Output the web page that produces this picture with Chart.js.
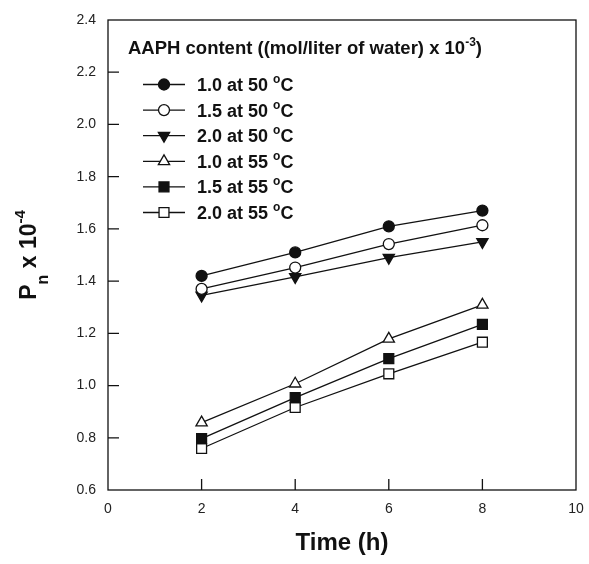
<!DOCTYPE html>
<html>
<head>
<meta charset="utf-8">
<script src="https://cdn.jsdelivr.net/npm/chart.js@4"></script>
<style>
  html, body { margin: 0; padding: 0; background: #fff; }
</style>
</head>
<body>
<canvas id="chart" width="589" height="564"></canvas>
<script>
// data
const hours = [2, 4, 6, 8];
const xTicks = [0, 2, 4, 6, 8, 10];
const yTicks = [0.6, 0.8, 1.0, 1.2, 1.4, 1.6, 1.8, 2.0, 2.2, 2.4];

const seriesNames = ["1.0 at 50", "1.5 at 50", "2.0 at 50", "1.0 at 55", "1.5 at 55", "2.0 at 55"];
const pn_10_50 = [1.42, 1.51, 1.61, 1.67];
const pn_15_50 = [1.37, 1.452, 1.542, 1.614];
const pn_20_50 = [1.345, 1.416, 1.49, 1.55];
const pn_10_55 = [0.858, 1.007, 1.179, 1.309];
const pn_15_55 = [0.797, 0.954, 1.103, 1.234];
const pn_20_55 = [0.759, 0.916, 1.045, 1.166];

const FONT = '"Liberation Sans", Arial, Helvetica, sans-serif';
const INK = '#111';

// marker look per series
const markers = [
  { style: 'circle',   fill: INK,    radius: 5.5, rotation: 0 },
  { style: 'circle',   fill: '#fff', radius: 5.5, rotation: 0 },
  { style: 'triangle', fill: INK,    radius: 6.5, rotation: 180 },
  { style: 'triangle', fill: '#fff', radius: 6.5, rotation: 0 },
  { style: 'rect',     fill: INK,    radius: 7,   rotation: 0 },
  { style: 'rect',     fill: '#fff', radius: 7,   rotation: 0 }
];
const seriesValues = [pn_10_50, pn_15_50, pn_20_50, pn_10_55, pn_15_55, pn_20_55];

const datasets = seriesValues.map((vals, i) => ({
  label: seriesNames[i],
  data: hours.map((h, j) => ({ x: h, y: vals[j] })),
  borderColor: INK,
  borderWidth: 1.3,
  pointStyle: markers[i].style,
  pointRotation: markers[i].rotation,
  pointRadius: markers[i].radius,
  pointBackgroundColor: markers[i].fill,
  pointBorderColor: INK,
  pointBorderWidth: 1.3,
  tension: 0
}));

// draw text pieces with sub/superscripts
function drawRuns(ctx, runs, x, y, center) {
  let total = 0;
  runs.forEach(r => { ctx.font = r.font; r.w = ctx.measureText(r.t).width; total += r.w; });
  let cx = center ? x - total / 2 : x;
  runs.forEach(r => {
    ctx.font = r.font;
    ctx.fillText(r.t, cx, y + (r.dy || 0));
    cx += r.w;
  });
}

function legendMarker(ctx, m, x, y) {
  ctx.save();
  ctx.translate(x, y);
  ctx.rotate(m.rotation * Math.PI / 180);
  ctx.beginPath();
  const r = m.radius;
  if (m.style === 'circle') {
    ctx.arc(0, 0, r, 0, Math.PI * 2);
  } else if (m.style === 'triangle') {
    for (let k = 0; k < 3; k++) {
      const a = -Math.PI / 2 + k * 2 * Math.PI / 3;
      k === 0 ? ctx.moveTo(r * Math.cos(a), r * Math.sin(a)) : ctx.lineTo(r * Math.cos(a), r * Math.sin(a));
    }
    ctx.closePath();
  } else {
    const s = r / Math.SQRT2;
    ctx.rect(-s, -s, 2 * s, 2 * s);
  }
  ctx.fillStyle = m.fill;
  ctx.fill();
  ctx.lineWidth = 1.3;
  ctx.strokeStyle = INK;
  ctx.stroke();
  ctx.restore();
}

const frame = {
  id: 'frame',
  afterDraw(chart) {
    const { ctx, chartArea: a, scales: { x, y } } = chart;
    ctx.save();
    // box + inward ticks
    ctx.strokeStyle = INK;
    ctx.lineWidth = 1.3;
    ctx.strokeRect(a.left, a.top, a.right - a.left, a.bottom - a.top);
    ctx.beginPath();
    xTicks.slice(1, -1).forEach(v => {
      const px = x.getPixelForValue(v);
      ctx.moveTo(px, a.bottom); ctx.lineTo(px, a.bottom - 11);
    });
    yTicks.slice(1, -1).forEach(v => {
      const py = y.getPixelForValue(v);
      ctx.moveTo(a.left, py); ctx.lineTo(a.left + 11, py);
    });
    ctx.stroke();

    ctx.fillStyle = INK;
    ctx.textBaseline = 'alphabetic';
    ctx.textAlign = 'left';

    // x title
    drawRuns(ctx, [{ t: 'Time (h)', font: 'bold 24px ' + FONT }], (a.left + a.right) / 2, 550, true);

    // y title, rotated
    ctx.save();
    ctx.translate(36, (a.top + a.bottom) / 2);
    ctx.rotate(-Math.PI / 2);
    drawRuns(ctx, [
      { t: 'P', font: 'bold 23px ' + FONT },
      { t: 'n', font: 'bold 16px ' + FONT, dy: 12 },
      { t: ' x 10', font: 'bold 23px ' + FONT },
      { t: '-4', font: 'bold 15px ' + FONT, dy: -11 }
    ], 0, 0, true);
    ctx.restore();

    // legend
    const lx = a.left + 20;
    drawRuns(ctx, [
      { t: 'AAPH content ((mol/liter of water) x 10', font: 'bold 18.5px ' + FONT },
      { t: '-3', font: 'bold 12px ' + FONT, dy: -8 },
      { t: ')', font: 'bold 18.5px ' + FONT }
    ], lx, 54, false);

    seriesNames.forEach((name, i) => {
      const cy = 84.5 + i * 25.6;
      ctx.beginPath();
      ctx.moveTo(a.left + 35, cy); ctx.lineTo(a.left + 77, cy);
      ctx.lineWidth = 1.3; ctx.strokeStyle = INK; ctx.stroke();
      legendMarker(ctx, markers[i], a.left + 56, cy);
      ctx.fillStyle = INK;
      drawRuns(ctx, [
        { t: name + ' ', font: 'bold 18px ' + FONT },
        { t: 'o', font: 'bold 12px ' + FONT, dy: -8 },
        { t: 'C', font: 'bold 18px ' + FONT }
      ], a.left + 89, cy + 6.5, false);
    });
    ctx.restore();
  }
};

new Chart(document.getElementById('chart'), {
  type: 'line',
  data: { datasets },
  options: {
    responsive: false,
    animation: false,
    devicePixelRatio: 1,
    layout: { padding: { top: 20, right: 13, left: 0, bottom: 0 } },
    plugins: { legend: { display: false }, tooltip: { enabled: false } },
    scales: {
      x: {
        type: 'linear',
        min: 0, max: 10,
        afterBuildTicks: s => { s.ticks = xTicks.map(v => ({ value: v })); },
        afterFit: s => { s.height = 74; s.paddingLeft = 0; s.paddingRight = 0; },
        grid: { display: false, drawTicks: false },
        border: { display: false },
        ticks: { padding: 11, color: '#222', font: { family: FONT, size: 14 }, maxRotation: 0 }
      },
      y: {
        type: 'linear',
        min: 0.6, max: 2.4,
        afterBuildTicks: s => { s.ticks = yTicks.map(v => ({ value: v })); },
        afterFit: s => { s.width = 108; s.paddingTop = 0; s.paddingBottom = 0; },
        grid: { display: false, drawTicks: false },
        border: { display: false },
        ticks: { padding: 12, color: '#222', font: { family: FONT, size: 14 }, callback: v => v.toFixed(1) }
      }
    }
  },
  plugins: [frame]
});
</script>
</body>
</html>
